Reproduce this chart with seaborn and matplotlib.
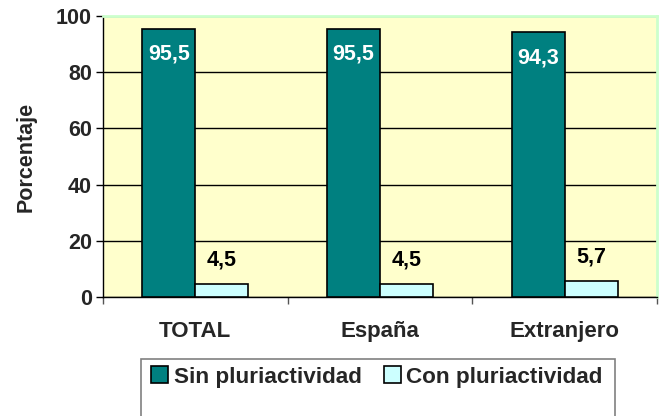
import matplotlib
matplotlib.use("Agg")
import matplotlib.pyplot as plt
import seaborn as sns
import pandas as pd
from matplotlib.patches import Rectangle

categories = ["TOTAL", "España", "Extranjero"]
series_names = ["Sin pluriactividad", "Con pluriactividad"]
sin_values = [95.5, 95.5, 94.3]
con_values = [4.5, 4.5, 5.7]
sin_labels = ["95,5", "95,5", "94,3"]
con_labels = ["4,5", "4,5", "5,7"]
yticks = [0, 20, 40, 60, 80, 100]

df = pd.DataFrame({
    "cat": categories * 2,
    "serie": [series_names[0]] * 3 + [series_names[1]] * 3,
    "val": sin_values + con_values,
})

sns.set_style("white")
plt.rcParams["font.family"] = ["Liberation Sans", "DejaVu Sans"]
plt.rcParams["font.weight"] = "bold"

fig = plt.figure(figsize=(6.6, 4.16), dpi=100)
fig.patch.set_facecolor("white")
ax = fig.add_axes([103/660, 1 - 297/416, (657-103)/660, (297-16)/416])
ax.set_facecolor("#FFFFCC")

palette = {series_names[0]: "#008080", series_names[1]: "#CCFFFF"}
sns.barplot(data=df, x="cat", y="val", hue="serie", order=categories,
            hue_order=series_names, palette=palette, width=0.574,
            edgecolor="black", linewidth=1.2, saturation=1, ax=ax, legend=False,
            zorder=3)

ax.set_ylim(0, 100)
ax.set_xlim(-0.5, 2.5)
ax.set_yticks(yticks)
ax.set_yticklabels([str(t) for t in yticks], fontsize=15.5, fontweight="bold")
ax.yaxis.grid(True, color="black", linewidth=1, zorder=0)
ax.set_axisbelow(True)
ax.tick_params(axis="y", which="major", left=True, length=5, width=1, color="black", pad=3)

ax.set_xticks([0, 1, 2])
ax.set_xticklabels(categories, fontsize=16, fontweight="bold")
ax.tick_params(axis="x", which="major", bottom=False, length=0, pad=17)
ax.set_xticks([-0.5, 0.5, 1.5, 2.5], minor=True)
ax.tick_params(axis="x", which="minor", bottom=True, length=5, width=1, color="#555555")

ax.set_xlabel("")
ax.set_ylabel("Porcentaje", fontsize=15.5, fontweight="bold", labelpad=14)

for s in ["left", "bottom"]:
    ax.spines[s].set_color("black")
    ax.spines[s].set_linewidth(1)
for s in ["top", "right"]:
    ax.spines[s].set_color("#CCFFCC")
    ax.spines[s].set_linewidth(2)

# data labels
containers = ax.containers
for bar, lab in zip(containers[0], sin_labels):
    x = bar.get_x() + bar.get_width() / 2
    ax.annotate(lab, (x, bar.get_height()), xytext=(0, -18.5), textcoords="offset points",
                ha="center", va="center", color="white", fontsize=15.5, fontweight="bold", zorder=5)
for bar, lab in zip(containers[1], con_labels):
    x = bar.get_x() + bar.get_width() / 2
    ax.annotate(lab, (x, bar.get_height()), xytext=(0, 17.5), textcoords="offset points",
                ha="center", va="center", color="black", fontsize=15.5, fontweight="bold", zorder=5)

# legend frame
fig.patches.append(Rectangle((141/660, -0.1), (615-141)/660, 0.1 + 1 - 359/416,
                             transform=fig.transFigure, facecolor="white",
                             edgecolor="#808080", linewidth=1.2))
handles = [Rectangle((0, 0), 1, 1, facecolor=palette[n], edgecolor="black", linewidth=1.2)
           for n in series_names]
fig.legend(handles, series_names, loc="center left", bbox_to_anchor=(151/660, 1 - 377/416),
           ncol=2, frameon=False, prop={"weight": "bold", "size": 16.2},
           handlelength=0.75, handleheight=0.75, handletextpad=0.25, columnspacing=1.0,
           borderpad=0, borderaxespad=0)

fig.savefig("out.png", dpi=100)
